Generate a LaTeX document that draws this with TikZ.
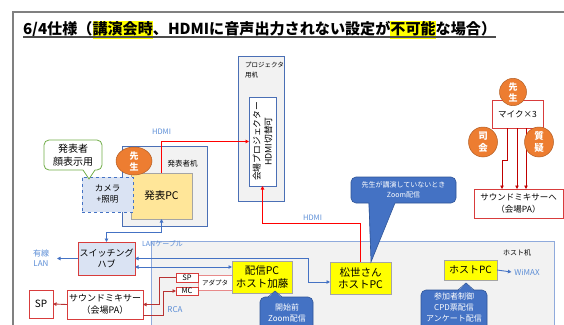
\documentclass[tikz,border=0pt]{standalone}
\usepackage{fontspec}
\setmainfont{Noto Sans CJK JP}
\usetikzlibrary{arrows.meta,shapes.geometric}
\definecolor{lanblue}{HTML}{4472C4}
\definecolor{lblblue}{HTML}{5B8DD6}
\definecolor{boxred}{HTML}{D83C3C}
\definecolor{hdmired}{HTML}{FF0000}
\definecolor{micred}{HTML}{C00000}
\definecolor{deskgray}{HTML}{F2F2F2}
\definecolor{deskblue}{HTML}{4A6FB5}
\definecolor{hostborder}{HTML}{8FAADC}
\definecolor{pcyellow}{HTML}{FFE699}
\definecolor{ybox}{HTML}{FFFF00}
\definecolor{ygray}{HTML}{A5A5A5}
\definecolor{lightblue}{HTML}{DAE3F3}
\definecolor{orng}{HTML}{ED7D31}
\definecolor{callblue}{HTML}{4472C4}
\definecolor{callborder}{HTML}{2F5597}
\definecolor{calgreen}{HTML}{70AD47}
\definecolor{framegray}{HTML}{808080}
\newcommand\fsz[2]{\fontsize{#1}{#2}\selectfont}
\newcommand\hlt[1]{{\setlength{\fboxsep}{0pt}\colorbox{ybox}{\rule[-5pt]{0pt}{17pt}#1}}}
\begin{document}
\begin{tikzpicture}[x=1pt,y=-1pt,
 every node/.style={inner sep=0pt, outer sep=0pt},
 bx/.style={draw, rectangle, align=center, line width=0.8pt},
 redbox/.style={bx, draw=boxred, fill=white},
 ybx/.style={bx, draw=ygray, fill=ybox},
 desk/.style={draw=deskblue, fill=deskgray, line width=0.9pt, rectangle},
 orngc/.style={ellipse, fill=orng, draw=orng!75!black, line width=0.5pt, text=white, align=center, font=\bfseries\fsz{9}{11}},
 lbl/.style={text=lblblue, align=center},
 lan/.style={draw=lanblue, line width=0.9pt},
 hdmi/.style={draw=hdmired, line width=0.9pt},
 rca/.style={draw=boxred!85!black, line width=0.9pt},
 micl/.style={draw=micred, line width=0.8pt},
 arr1/.style={-{Triangle[length=3.5pt,width=3.5pt]}},
 arr2/.style={{Triangle[length=3.5pt,width=3.5pt]}-{Triangle[length=3.5pt,width=3.5pt]}},
 bcall/.style={fill=callblue, draw=callborder, line width=0.6pt, rounded corners=5pt},
]
\useasboundingbox (0,0) rectangle (564,324);
\clip (0,0) rectangle (564,324);

% frame
\draw[framegray, line width=2pt] (13,340) -- (13,12) -- (580,12);

% title
\node[anchor=base west, font=\bfseries\fsz{15.1}{19}] (title) at (23,34) {6/4仕様（\hlt{講演会時}、HDMIに音声出力されない設定が\hlt{不可能}な場合）};
\draw[black!70, line width=1.2pt] ([yshift=-3pt]title.base west) -- ([yshift=-3pt]title.base east);

% host desk region
\node[draw=hostborder, fill=deskgray, line width=1pt, anchor=north west, minimum width=403pt, minimum height=100pt] (hostdesk) at (151,241) {};
\node[font=\fsz{7}{8}] (hostlbl) at (517,253) {ホスト机};

% projector desk
\node[desk, minimum width=46pt, minimum height=145pt] (projdesk) at (261,128.5) {};
\node[anchor=north west, align=left, font=\fsz{6.5}{10}] (projlbl) at (245,62) {プロジェクタ\\用机};
\node[draw=deskblue, fill=white, line width=0.8pt, minimum width=27pt, minimum height=89pt] (projin) at (262.5,141.5) {};
\node[rotate=90, align=center, font=\fsz{8.8}{11.5}] (projtxt) at (projin) {会場プロジェクター\\HDMI切替可};

% presenter desk
\node[desk, minimum width=85pt, minimum height=80pt] (presdesk) at (164.5,186) {};
\node[font=\fsz{7.5}{9}] (preslbl) at (182.5,163.5) {発表者机};
\node[bx, draw=ygray, fill=pcyellow, minimum width=61pt, minimum height=46pt, font=\fsz{10.5}{12}] (hpc) at (161.5,196) {発表PC};
\node[bx, dashed, draw=lanblue, fill=lightblue, minimum width=51pt, minimum height=35pt, font=\fsz{8.5}{11}] (cam) at (107.5,194.5) {カメラ\\+照明};
\node[orngc, minimum width=36pt, minimum height=28pt] (sensei1) at (134,161) {先\\生};

% green callout
\node[draw=calgreen, fill=white, line width=0.8pt, rounded corners=5pt, minimum width=58pt, minimum height=30pt, align=center, font=\fsz{10}{13}] (call1) at (73,155) {発表者\\顔表示用};
\coordinate (tip1) at (89,179);
\fill[white] ([xshift=9.5pt, yshift=1.5pt]call1.south) -- (tip1) -- ([xshift=22.5pt, yshift=1.5pt]call1.south) -- cycle;
\draw[calgreen, line width=0.8pt] ([xshift=10pt]call1.south) -- (tip1) -- ([xshift=22pt]call1.south);

% hub and wired LAN
\node[redbox, fill=lightblue, minimum width=57pt, minimum height=33pt, font=\fsz{9}{11.5}] (hub) at (106.5,258.5) {スイッチング\\ハブ};
\node[lbl, font=\fsz{8}{10}] (wlan) at (41,258) {有線\\LAN};
\coordinate (wlanend) at (57,258.5);

% mixer etc
\node[redbox, minimum width=76pt, minimum height=29pt, font=\fsz{9}{11.5}] (mixer) at (105,304.5) {サウンドミキサー\\（会場PA）};
\node[redbox, minimum width=24pt, minimum height=28pt, font=\fsz{10}{12}] (sp) at (41,304) {SP};
\node[redbox, draw=boxred!60, minimum width=34pt, minimum height=15pt, font=\fsz{6.5}{8}] (adapter) at (215,282.5) {アダプタ};
\node[redbox, minimum width=22pt, minimum height=9pt, font=\fsz{7.5}{8}] (spsm) at (187,277.5) {SP};
\node[redbox, minimum width=22pt, minimum height=8pt, font=\fsz{7.5}{8}] (mcsm) at (187,291) {MC};

% PCs
\node[ybx, minimum width=60pt, minimum height=32pt, font=\fsz{10.5}{12.5}] (haishin) at (262,277) {配信PC\\ホスト加藤};
\node[ybx, minimum width=61pt, minimum height=32pt, font=\fsz{10.5}{12.5}] (matsuse) at (360.5,278) {松世さん\\ホストPC};
\node[ybx, minimum width=53pt, minimum height=20pt, font=\fsz{10}{12}] (hostpc) at (470.5,270) {ホストPC};
\node[lbl, font=\fsz{8}{10}] (wimax) at (527,272) {WiMAX};

% labels
\node[lbl, font=\fsz{7.5}{9}] (hdmi1) at (161.5,132) {HDMI};
\node[lbl, font=\fsz{7.5}{9}] (hdmi2) at (312.5,218) {HDMI};
\node[lbl, font=\fsz{7}{9}] (lancable) at (162.5,244) {LANケーブル};
\node[lbl, font=\fsz{8}{10}] (rca) at (175,310) {RCA};

% mic area
\node[redbox, minimum width=51pt, minimum height=28pt, font=\fsz{8.5}{10}] (mic) at (517.5,114) {マイク×3};
\node[redbox, minimum width=89pt, minimum height=29pt, font=\fsz{8.5}{11.5}] (mixto) at (518.5,203.5) {サウンドミキサーへ\\（会場PA）};
\draw[micl, arr1] ([xshift=-10.5pt]mic.south) -- ++(0,32) -| ([xshift=-16.5pt]mixto.north);
\draw[micl, arr1] ([xshift=-0.5pt]mic.south) -- ++(0,61);
\draw[micl, arr1] ([xshift=8.5pt]mic.south) -- ++(0,61);
\node[orngc, minimum width=27pt, minimum height=27pt] (sensei2) at (513,92) {先\\生};
\node[orngc, minimum width=29pt, minimum height=30pt, font=\bfseries\fsz{9.5}{12}] (shikai) at (483,142) {司\\会};
\node[orngc, minimum width=29pt, minimum height=30pt, font=\bfseries\fsz{9.5}{12}] (shitsugi) at (539,142) {質\\疑};

% HDMI connectors
\draw[hdmi, arr1] (hpc.north) |- (projin.west);
\draw[hdmi, arr1] (matsuse.north) -- ++(0,-39) -| (projin.south);

% LAN connectors
\draw[lan, arr2] (hpc.south) -- ++(0,13) -| (hub.north);
\draw[lan, arr1] (hub.west) -- (wlanend);
\coordinate (lanbend) at (308,258.5);
\draw[lan, arr2] (hub.east) -- (lanbend) |- ([yshift=-4pt]matsuse.west);
\draw[lan, arr2] ([yshift=-8.5pt]hub.east) -- ([yshift=-8.5pt]hub.east -| haishin.west);
\draw[lan, arr1] (hostpc.east) -- ([xshift=-3pt]wimax.west);

% RCA connectors
\draw[rca, arr1] (spsm.west) -- ++(-17,0) |- (mixer.east);
\draw[rca, arr1] ([yshift=-10.5pt]mixer.east) -- ++(20,0) |- (mcsm.west);
\draw[rca, arr1] (mixer.west) -- (sp.east);

% blue callouts
\node[bcall, minimum width=105pt, minimum height=26pt, text=white, align=center, font=\fsz{7}{10}] (call2) at (403.5,190) {先生が講演していないとき\\Zoom配信};
\coordinate (tip2) at (371,262);
\fill[callblue] ([xshift=-35pt,yshift=1.5pt]call2.south) -- (tip2) -- ([xshift=-8pt,yshift=1.5pt]call2.south) -- cycle;
\draw[callborder, line width=0.6pt] ([xshift=-34.5pt]call2.south) -- (tip2) -- ([xshift=-8.5pt]call2.south);

\node[bcall, anchor=north, minimum width=53pt, minimum height=48pt] (call3) at (286.5,297) {};
\coordinate (tip3) at (275,291);
\fill[callblue] ([xshift=-19pt,yshift=-1.5pt]call3.north) -- (tip3) -- ([xshift=-4pt,yshift=-1.5pt]call3.north) -- cycle;
\draw[callborder, line width=0.6pt] ([xshift=-18.5pt]call3.north) -- (tip3) -- ([xshift=-4.5pt]call3.north);
\node[text=white, align=center, font=\fsz{8}{11}] (call3txt) at (287,312.5) {開始前\\Zoom配信};

\node[bcall, anchor=north, minimum width=66pt, minimum height=50pt] (call4) at (454,290) {};
\coordinate (tip4) at (466,283);
\fill[callblue] ([xshift=3.5pt,yshift=-1.5pt]call4.north) -- (tip4) -- ([xshift=20.5pt,yshift=-1.5pt]call4.north) -- cycle;
\draw[callborder, line width=0.6pt] ([xshift=4pt]call4.north) -- (tip4) -- ([xshift=20pt]call4.north);
\node[text=white, align=center, font=\fsz{8}{10.8}] (call4txt) at (454,307.5) {参加者制御\\CPD票配信\\アンケート配信};
\end{tikzpicture}
\end{document}
